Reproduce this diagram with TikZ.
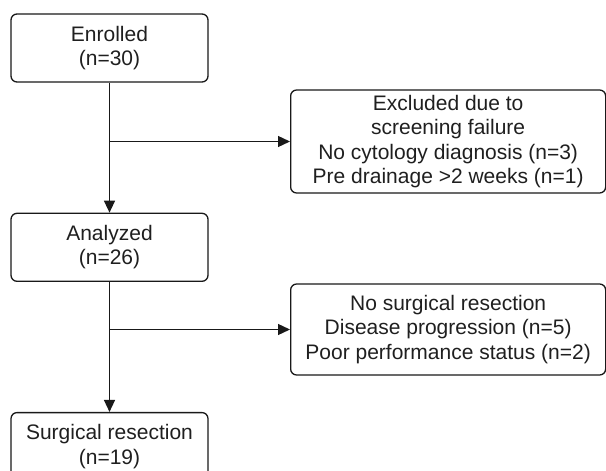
\documentclass[tikz,border=0pt]{standalone}
\usepackage{fontspec}
\setmainfont{Liberation Sans}
\usepackage{tikz}
\usetikzlibrary{positioning, arrows.meta, calc}

\begin{document}
\begin{tikzpicture}[
    x=1pt, y=1pt,
    node distance=130pt and 82pt,
    every node/.style={font=\fontsize{21}{24.5}\selectfont, text=black!88, align=center},
    stage/.style={draw=black!90, line width=1.3pt, rounded corners=6pt, minimum width=197pt, minimum height=68pt, inner sep=2pt},
    outbox/.style={draw=black!90, line width=1.3pt, rounded corners=6pt, minimum width=315pt, inner sep=2pt},
    arrow/.style={-{Triangle[length=12pt, width=11pt]}, black!90, line width=1.3pt}
]
\useasboundingbox (0,0) rectangle (606,-471);
\clip (0,0) rectangle (606,-471);

% Main stages
\node[stage] (enrolled) at (109.5,-48) {Enrolled\\(n=30)};
\node[stage, below=of enrolled] (analyzed) {Analyzed\\(n=26)};
\node[stage, below=of analyzed] (surgery) {Surgical resection\\(n=19)};

% Side boxes
\node[outbox, minimum height=103pt, anchor=west] (excluded) at (290,-141.5)
    {Excluded due to\\screening failure\\No cytology diagnosis (n=3)\\Pre drainage >2 weeks (n=1)};
\node[outbox, minimum height=91pt, anchor=west] (nosurgery) at (290,-329.5)
    {No surgical resection\\Disease progression (n=5)\\Poor performance status (n=2)};

% Branch points
\coordinate (b1) at (enrolled.south |- excluded.west);
\coordinate (b2) at (analyzed.south |- nosurgery.west);

% Arrows
\draw[arrow] (enrolled) -- (analyzed);
\draw[arrow] (analyzed) -- (surgery);
\draw[arrow] (b1) -- (excluded);
\draw[arrow] (b2) -- (nosurgery);

\end{tikzpicture}
\end{document}
